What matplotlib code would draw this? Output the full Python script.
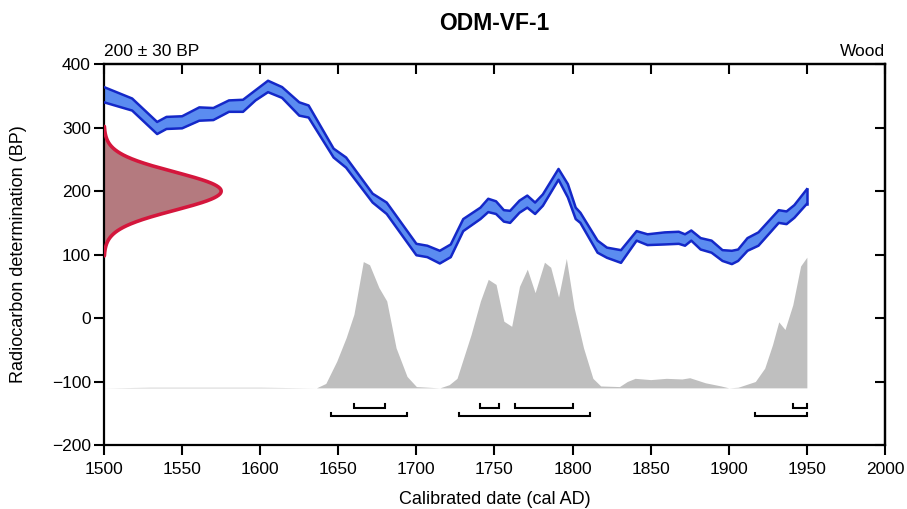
import numpy as np
import matplotlib
matplotlib.use("Agg")
import matplotlib.pyplot as plt

plt.rcParams['font.family'] = ['Liberation Sans', 'DejaVu Sans']

# Calibration curve (cal AD, upper / lower BP edges of band)
curve_year = [1500, 1518, 1534, 1540, 1550, 1561, 1570, 1580, 1589, 1597, 1605, 1614,
              1625, 1631, 1647, 1655, 1672, 1681, 1700, 1707, 1715, 1722, 1730, 1741,
              1746, 1751, 1756, 1760, 1766, 1771, 1776, 1781, 1791, 1797, 1802, 1805,
              1816, 1822, 1831, 1841, 1848, 1859, 1868, 1872, 1876, 1882, 1889, 1896,
              1902, 1906, 1912, 1919, 1932, 1937, 1942, 1950]
curve_upper = [364, 346, 309, 317, 318, 332, 331, 343, 344, 359, 374, 364,
               340, 335, 267, 253, 196, 182, 117, 114, 106, 116, 156, 174,
               188, 184, 170, 169, 185, 193, 182, 195, 235, 211, 174, 166,
               122, 111, 107, 137, 132, 135, 136, 132, 138, 126, 122, 107,
               106, 108, 126, 135, 170, 168, 178, 203]
curve_lower = [340, 327, 290, 298, 299, 311, 312, 325, 325, 343, 356, 347,
               319, 316, 253, 237, 182, 164, 99, 96, 86, 96, 137, 156,
               167, 164, 152, 150, 166, 174, 164, 177, 218, 190, 156, 150,
               103, 95, 87, 122, 115, 116, 117, 114, 122, 108, 103, 90,
               85, 90, 106, 114, 150, 148, 158, 180]

# Calibrated probability distribution (plotted on BP axis, baseline -110)
prob_year = [1500, 1530, 1600, 1636, 1642, 1649, 1655, 1660, 1666, 1670, 1676, 1681,
             1687, 1694, 1700, 1715, 1721, 1726, 1735, 1741, 1746, 1751, 1756, 1761,
             1766, 1771, 1776, 1782, 1786, 1791, 1796, 1801, 1807, 1813, 1818, 1830,
             1835, 1840, 1850, 1860, 1870, 1875, 1880, 1885, 1895, 1900, 1906, 1917,
             1923, 1928, 1932, 1936, 1941, 1946, 1950]
prob_value = [-110, -109, -109, -110, -103, -68, -31, 6, 89, 84, 48, 27,
              -47, -92, -108, -110, -105, -95, -26, 27, 61, 53, -5, -13,
              50, 77, 40, 88, 80, 33, 94, 16, -47, -95, -107, -108,
              -100, -95, -97, -95, -96, -94, -98, -102, -107, -110, -109, -100,
              -79, -42, -6, -18, 21, 82, 96]
prob_base = -110

# Calibrated ranges
sigma1_ranges = [(1660, 1680), (1741, 1753), (1763, 1800), (1941, 1950)]
sigma2_ranges = [(1645, 1694), (1727, 1811), (1917, 1950)]
sigma1_level = -142
sigma2_level = -155

# Radiocarbon determination
c14_mean = 200
c14_err = 30

title = "ODM-VF-1"
label_left = "200 ± 30 BP"
label_right = "Wood"

fig = plt.figure(figsize=(9.07, 5.09), dpi=100)
ax = fig.add_axes([0.1147, 0.1258, 0.8610, 0.7480])

# Gray probability
ax.fill_between(prob_year, prob_base, prob_value, color='#bfbfbf', linewidth=0, zorder=1)

# Calibration curve band
ax.fill_between(curve_year, curve_lower, curve_upper, color='#5b8cf0', linewidth=0, zorder=2)
ax.plot(curve_year, curve_upper, color='#1428c8', lw=1.8, zorder=3)
ax.plot(curve_year, curve_lower, color='#1428c8', lw=1.8, zorder=3)
ax.plot([curve_year[-1], curve_year[-1]], [curve_lower[-1], curve_upper[-1]], color='#1428c8', lw=1.8, zorder=3)

# Radiocarbon gaussian on y axis
yy = np.linspace(c14_mean - 3.4 * c14_err, c14_mean + 3.4 * c14_err, 300)
gx = 1500 + 75 * np.exp(-0.5 * ((yy - c14_mean) / c14_err) ** 2)
ax.fill_betweenx(yy, 1500, gx, color='#b47a7f', linewidth=0, zorder=2)
ax.plot(gx, yy, color='#d4163c', lw=2.6, zorder=3, solid_capstyle='round')

# Range brackets
def bracket(x0, x1, y):
    ax.plot([x0, x0, x1, x1], [y + 6, y, y, y + 6], color='black', lw=1.5, zorder=4,
            solid_joinstyle='miter')

for a, b in sigma1_ranges:
    bracket(a, b, sigma1_level)
for a, b in sigma2_ranges:
    bracket(a, b, sigma2_level)

ax.set_xlim(1500, 2000)
ax.set_ylim(-200, 400)
ax.set_xticks(np.arange(1500, 2001, 50))
ax.set_yticks(np.arange(-200, 401, 100))
ax.tick_params(direction='out', length=7.5, width=1.5, labelsize=12.5)
ax.tick_params(axis='x', pad=5)
ax.tick_params(axis='y', pad=2)
for s in ax.spines.values():
    s.set_linewidth(1.6)

# Inward ticks on top and right
secx = ax.secondary_xaxis('top')
secx.set_xticks(np.arange(1500, 2001, 50))
secx.tick_params(direction='in', length=7.5, width=1.5, labeltop=False)
secy = ax.secondary_yaxis('right')
secy.set_yticks(np.arange(-200, 401, 100))
secy.tick_params(direction='in', length=7.5, width=1.5, labelright=False)
secx.spines['top'].set_linewidth(1.6)
secy.spines['right'].set_linewidth(1.6)

ax.set_xlabel("Calibrated date (cal AD)", fontsize=13, labelpad=10)
ax.set_ylabel("Radiocarbon determination (BP)", fontsize=13, labelpad=18)
ax.set_title(title, fontsize=16.5, fontweight='bold', pad=25)
ax.text(0.0, 1.015, label_left, transform=ax.transAxes, ha='left', va='bottom', fontsize=12.5)
ax.text(1.0, 1.015, label_right, transform=ax.transAxes, ha='right', va='bottom', fontsize=12.5)

fig.savefig("out.png", dpi=100)
